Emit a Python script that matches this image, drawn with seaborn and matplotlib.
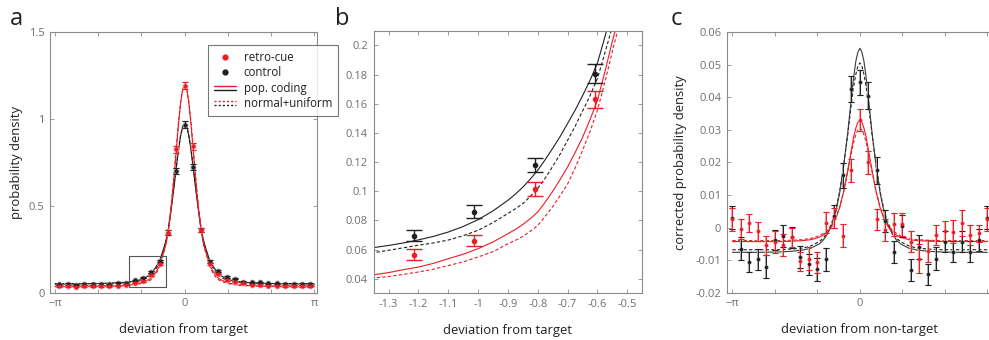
import numpy as np
import pandas as pd
import matplotlib
matplotlib.use("Agg")
import matplotlib.pyplot as plt
import seaborn as sns
from matplotlib.lines import Line2D
from matplotlib.patches import Rectangle
from matplotlib.legend_handler import HandlerBase
from matplotlib.ticker import FuncFormatter

# ---------------- data ----------------
# bins (a, b): 31 bins centred on 0 ; bins (c): 31 points from -pi to pi
bin_k = np.arange(-15, 16)
x_ab = bin_k * 2 * np.pi / 31
x_c = bin_k * np.pi / 15

# panel a/b data: probability density per bin
control_a = [0.047, 0.049, 0.046, 0.048, 0.049, 0.050, 0.047, 0.057, 0.055,
             0.0695, 0.086, 0.118, 0.1805, 0.345, 0.700, 0.965, 0.720, 0.360,
             0.178, 0.125, 0.090, 0.080, 0.063, 0.058, 0.058, 0.053, 0.052,
             0.050, 0.050, 0.049, 0.050]
control_a_err = [0.004, 0.004, 0.004, 0.004, 0.004, 0.004, 0.004, 0.004, 0.004,
                 0.0037, 0.0045, 0.0045, 0.0065, 0.012, 0.018, 0.02, 0.018, 0.012,
                 0.0065, 0.0045, 0.0045, 0.004, 0.004, 0.004, 0.004, 0.004, 0.004,
                 0.004, 0.004, 0.004, 0.004]
retro_a = [0.036, 0.037, 0.034, 0.037, 0.036, 0.038, 0.036, 0.040, 0.045,
           0.0565, 0.066, 0.1015, 0.163, 0.345, 0.825, 1.190, 0.840, 0.360,
           0.165, 0.109, 0.071, 0.063, 0.052, 0.046, 0.044, 0.040, 0.039,
           0.038, 0.037, 0.037, 0.036]
retro_a_err = [0.004, 0.004, 0.004, 0.004, 0.004, 0.004, 0.004, 0.004, 0.004,
               0.004, 0.0037, 0.0048, 0.006, 0.012, 0.02, 0.022, 0.02, 0.012,
               0.006, 0.0048, 0.0045, 0.004, 0.004, 0.004, 0.004, 0.004, 0.004,
               0.004, 0.004, 0.004, 0.004]

# model curves (symmetric), sampled at |deviation|
curve_x = [0, 0.05, 0.1, 0.15, 0.2, 0.25, 0.3, 0.35, 0.4, 0.45, 0.475, 0.5,
           0.525, 0.55, 0.575, 0.6, 0.625, 0.65, 0.675, 0.7, 0.725, 0.75,
           0.775, 0.8, 0.825, 0.85, 0.875, 0.9, 0.95, 1.0, 1.05, 1.1, 1.15,
           1.2, 1.25, 1.3, 1.35, 1.5, 1.75, 2.0, 2.5, np.pi]
pop_control = [0.975, 0.955, 0.90, 0.82, 0.725, 0.625, 0.53, 0.44, 0.36, 0.305,
               0.282, 0.262, 0.243, 0.225, 0.206, 0.188, 0.176, 0.1655, 0.1555,
               0.1465, 0.1375, 0.1295, 0.1217, 0.1144, 0.1083, 0.1028, 0.098,
               0.0938, 0.0865, 0.0805, 0.0758, 0.072, 0.069, 0.0666, 0.0645,
               0.0628, 0.0613, 0.058, 0.0545, 0.052, 0.0495, 0.048]
nu_control = [0.970, 0.955, 0.905, 0.83, 0.735, 0.635, 0.54, 0.45, 0.365, 0.30,
              0.273, 0.25, 0.231, 0.213, 0.195, 0.1774, 0.1655, 0.155, 0.1445,
              0.135, 0.1255, 0.117, 0.109, 0.102, 0.0965, 0.0915, 0.088,
              0.0847, 0.0785, 0.0732, 0.0695, 0.0665, 0.0645, 0.063, 0.0612,
              0.0595, 0.0579, 0.055, 0.053, 0.052, 0.0515, 0.0515]
pop_retro = [1.20, 1.17, 1.09, 0.97, 0.83, 0.685, 0.555, 0.44, 0.35, 0.285,
             0.262, 0.242, 0.222, 0.203, 0.182, 0.1625, 0.149, 0.137, 0.1265,
             0.1167, 0.108, 0.100, 0.0925, 0.0858, 0.0812, 0.0772, 0.0738,
             0.0709, 0.0652, 0.0606, 0.0568, 0.0537, 0.0505, 0.048, 0.0462,
             0.0442, 0.0427, 0.040, 0.037, 0.0355, 0.034, 0.0335]
nu_retro = [1.19, 1.165, 1.095, 0.985, 0.85, 0.71, 0.575, 0.455, 0.355, 0.285,
            0.258, 0.235, 0.216, 0.196, 0.175, 0.1557, 0.141, 0.128, 0.116,
            0.105, 0.097, 0.0895, 0.0828, 0.0766, 0.0725, 0.069, 0.0663,
            0.064, 0.0585, 0.0549, 0.0515, 0.049, 0.0465, 0.0446, 0.043,
            0.0415, 0.0405, 0.039, 0.038, 0.0375, 0.0375, 0.0375]

# panel c data: corrected density around non-target
control_c = [0.003, -0.0065, -0.0105, -0.0098, -0.012, -0.0038, -0.0026, -0.003,
             -0.009, -0.0113, -0.0128, -0.0098, 0.0035, 0.016, 0.0425, 0.0445,
             0.0405, 0.0175, 0.002, -0.0075, 0.0005, -0.013, -0.006, -0.0144,
             -0.0095, -0.0043, -0.0074, -0.0043, -0.0074, -0.0038, 0.003]
control_c_err = [0.0035, 0.0035, 0.003, 0.0033, 0.0035, 0.003, 0.0033, 0.0033,
                 0.0033, 0.0033, 0.0035, 0.0035, 0.0035, 0.0038, 0.004, 0.0038,
                 0.004, 0.004, 0.0035, 0.0035, 0.0035, 0.0035, 0.0038, 0.0033,
                 0.0034, 0.0033, 0.0033, 0.0033, 0.0033, 0.0034, 0.0035]
retro_c = [0.0025, -0.0005, 0.0013, -0.0012, -0.0055, -0.0045, -0.0053, -0.003,
           -0.0104, -0.0096, -0.0107, 0.0015, 0.003, -0.0025, 0.0175, 0.033,
           0.020, 0.0025, -0.0007, 0.001, 0.001, -0.0043, -0.0095, -0.0072,
           -0.0023, -0.001, -0.0013, 0.0015, -0.0023, -0.0018, 0.0025]
retro_c_err = [0.0035, 0.003, 0.0028, 0.003, 0.0028, 0.0033, 0.0033, 0.003,
               0.003, 0.0035, 0.0033, 0.0033, 0.003, 0.0035, 0.0035, 0.0033,
               0.0035, 0.0033, 0.0033, 0.0035, 0.0035, 0.0033, 0.0045, 0.0033,
               0.0032, 0.003, 0.0035, 0.004, 0.0032, 0.0026, 0.0035]

curve_c_x = [0, 0.05, 0.1, 0.15, 0.2, 0.3, 0.4, 0.5, 0.6, 0.7, 0.8, 0.9, 1.0,
             1.2, 1.4, 1.7, 2.0, 2.5, np.pi]
pop_control_c = [0.055, 0.0538, 0.051, 0.0465, 0.041, 0.029, 0.019, 0.0105,
                 0.0045, 0.0005, -0.002, -0.0038, -0.005, -0.0063, -0.0069,
                 -0.0073, -0.0075, -0.0076, -0.0076]
nu_control_c = [0.0505, 0.0495, 0.047, 0.0435, 0.039, 0.0285, 0.019, 0.011,
                0.005, 0.0012, -0.0015, -0.0032, -0.0043, -0.0056, -0.0063,
                -0.0066, -0.0068, -0.0068, -0.0068]
pop_retro_c = [0.033, 0.0323, 0.0305, 0.028, 0.0245, 0.0175, 0.011, 0.006,
               0.0025, 0.0002, -0.0013, -0.0023, -0.003, -0.0037, -0.004,
               -0.0042, -0.0043, -0.0043, -0.0043]
nu_retro_c = [0.0305, 0.030, 0.0285, 0.0263, 0.0235, 0.0172, 0.011, 0.0062,
              0.0028, 0.0006, -0.0008, -0.0018, -0.0025, -0.0033, -0.0037,
              -0.0039, -0.004, -0.004, -0.004]

b_xlim = (-1.35, -0.45)
b_ylim = (0.03, 0.21)

# ---------------- style ----------------
RED = "#ec1c24"
BLACK = "#231f20"
PINK = "#f5a3a6"
LGRAY = "#a8a8a8"
SPINE = "#8a8a8a"
TICK = "#6d6e71"
LABEL_FS = 9.4

sns.set_style("white")
plt.rcParams["font.family"] = ["Open Sans", "DejaVu Sans"]
plt.rcParams["axes.unicode_minus"] = False


def mirror(xs, ys):
    xs = np.asarray(xs, float)
    ys = np.asarray(ys, float)
    return (np.concatenate([-xs[::-1], xs[1:]]),
            np.concatenate([ys[::-1], ys[1:]]))


def style_axes(ax):
    for s in ax.spines.values():
        s.set_color(SPINE)
        s.set_linewidth(0.8)
    ax.tick_params(direction="in", length=3, width=0.6, color=SPINE,
                   labelcolor=TICK, labelsize=8, top=True, right=True,
                   bottom=True, left=True, pad=4)


fmt = FuncFormatter(lambda v, p: "%g" % round(v, 4))


def pi_ticks(ax, labels):
    ax.set_xticks(np.arange(-3, 4) * np.pi / 3)
    ax.set_xticklabels(labels)


def draw_curves(ax, xs, curves):
    for ys, col, ls in curves:
        cx, cy = mirror(xs, ys)
        sns.lineplot(x=cx, y=cy, ax=ax, color=col, linestyle=ls, lw=0.8,
                     sort=True, estimator=None)


class TwoLines(HandlerBase):
    def __init__(self, ls):
        super().__init__()
        self.ls = ls

    def create_artists(self, legend, orig_handle, xdescent, ydescent, width,
                       height, fontsize, trans):
        y = height / 2 - ydescent
        top = Line2D([-xdescent, width - xdescent], [y + 1.5] * 2, color=RED,
                     ls=self.ls, lw=1.0, transform=trans)
        bot = Line2D([-xdescent, width - xdescent], [y - 1.5] * 2, color=BLACK,
                     ls=self.ls, lw=1.0, transform=trans)
        return [top, bot]


fig = plt.figure(figsize=(9.89, 3.4), dpi=100)
axa = fig.add_axes([0.0506, 0.1397, 0.2703, 0.767])
axb = fig.add_axes([0.3778, 0.1374, 0.2716, 0.772])
axc = fig.add_axes([0.7348, 0.139, 0.2693, 0.767])

dash = (0, (3, 2))
curves_ab = [(nu_control, BLACK, dash), (pop_control, BLACK, "-"),
             (nu_retro, RED, dash), (pop_retro, RED, "-")]

# ---------------- panel a ----------------
draw_curves(axa, curve_x, curves_ab)
for vals, err, col, light in [(control_a, control_a_err, BLACK, LGRAY),
                              (retro_a, retro_a_err, RED, PINK)]:
    axa.errorbar(x_ab, vals, yerr=err, fmt="o", ms=3.2, color=light, lw=1.3,
                 capsize=2, zorder=3)
    axa.errorbar(x_ab, vals, yerr=err, fmt="o", ms=2.0, color=col, lw=0.7,
                 capsize=2, capthick=0.7, zorder=4)
axa.add_patch(Rectangle((b_xlim[0], b_ylim[0]), b_xlim[1] - b_xlim[0],
                        b_ylim[1] - b_ylim[0], fill=False, ec="#555555",
                        lw=0.8, zorder=5))
axa.set_xlim(-np.pi - 0.12, np.pi + 0.07)
axa.set_ylim(0, 1.5)
pi_ticks(axa, ["−π", "", "", "0", "", "", "π"])
axa.set_yticks([0, 0.5, 1, 1.5])
axa.yaxis.set_major_formatter(fmt)
axa.set_xlabel("deviation from target", fontsize=LABEL_FS, color="#231f20",
               labelpad=10)
axa.set_ylabel("probability density", fontsize=LABEL_FS, color="#231f20",
               labelpad=4)
style_axes(axa)

h_retro = Line2D([], [], ls="none", marker="o", ms=3.5, color=RED)
h_ctrl = Line2D([], [], ls="none", marker="o", ms=3.5, color=BLACK)
h_pop = Line2D([], [])
h_nu = Line2D([], [])
leg = axa.legend([h_retro, h_ctrl, h_pop, h_nu],
                 ["retro-cue", "control", "pop. coding", "normal+uniform"],
                 handler_map={h_pop: TwoLines("-"), h_nu: TwoLines((0, (1.5, 1.5)))},
                 loc="upper left", bbox_to_anchor=(208 / 989, 1 - 45 / 340),
                 bbox_transform=fig.transFigure, fontsize=8.3, frameon=True,
                 fancybox=False, edgecolor="#555555", handlelength=1.9,
                 handletextpad=0.7, labelspacing=0.22, borderpad=0.5,
                 borderaxespad=0)
leg.get_frame().set_linewidth(0.8)
for t in leg.get_texts():
    t.set_color("#231f20")

# ---------------- panel b ----------------
draw_curves(axb, curve_x, curves_ab)
for vals, err, col in [(control_a, control_a_err, BLACK),
                       (retro_a, retro_a_err, RED)]:
    axb.errorbar(x_ab, vals, yerr=err, fmt="o", ms=3.0, color=col, lw=1.0,
                 capsize=6, capthick=1.0, zorder=4)
axb.set_xlim(*b_xlim)
axb.set_ylim(*b_ylim)
axb.set_xticks(np.round(np.arange(-1.3, -0.45, 0.1), 1))
axb.set_yticks(np.round(np.arange(0.04, 0.201, 0.02), 2))
axb.xaxis.set_major_formatter(fmt)
axb.yaxis.set_major_formatter(fmt)
axb.set_xlabel("deviation from target", fontsize=LABEL_FS, color="#231f20",
               labelpad=10)
style_axes(axb)

# ---------------- panel c ----------------
curves_c = [(nu_control_c, BLACK, dash), (pop_control_c, "#3a3a3a", "-"),
            (nu_retro_c, RED, dash), (pop_retro_c, RED, "-")]
draw_curves(axc, curve_c_x, curves_c)
for vals, err, col, light in [(control_c, control_c_err, BLACK, LGRAY),
                              (retro_c, retro_c_err, RED, PINK)]:
    axc.errorbar(x_c, vals, yerr=err, fmt="o", ms=2.2, color=light, lw=1.5,
                 capsize=2.2, zorder=3)
    axc.errorbar(x_c, vals, yerr=err, fmt="o", ms=1.4, color=col, lw=0.7,
                 capsize=2.2, capthick=0.7, zorder=4)
axc.set_xlim(-np.pi - 0.14, np.pi + 0.14)
axc.set_ylim(-0.02, 0.06)
# the right-hand end of panel c runs off the figure edge, so pi has no label
pi_ticks(axc, ["−π", "", "", "0", "", "", ""])
axc.set_yticks(np.round(np.arange(-0.02, 0.061, 0.01), 2))
axc.yaxis.set_major_formatter(fmt)
axc.set_xlabel("deviation from non-target", fontsize=LABEL_FS, color="#231f20",
               labelpad=10)
axc.set_ylabel("corrected probability density", fontsize=LABEL_FS,
               color="#231f20", labelpad=6)
style_axes(axc)

for letter, px in [("a", 10), ("b", 335), ("c", 671)]:
    fig.text(px / 989, 1 - 25 / 340, letter, fontsize=17, color="#231f20",
             va="baseline", ha="left")

fig.savefig("out.png", dpi=100)
